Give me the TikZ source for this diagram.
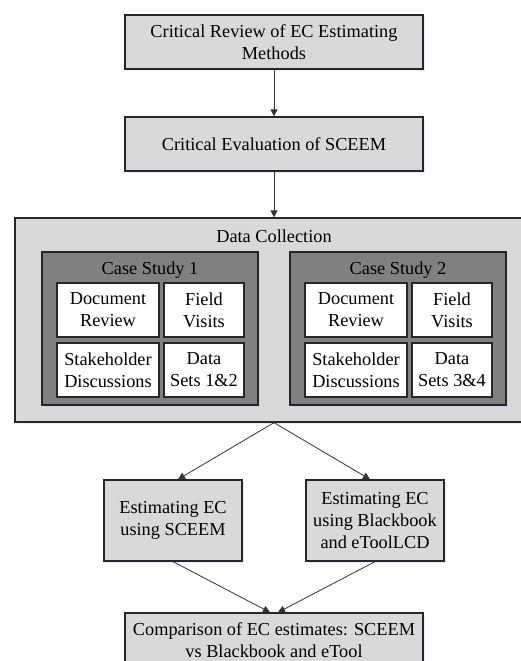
\documentclass[tikz,border=0pt]{standalone}
\usepackage{fontspec}
\setmainfont{Liberation Serif}
\usetikzlibrary{arrows.meta,shadows}

\begin{document}
\begin{tikzpicture}[x=1pt,y=-1pt,
  font=\fontsize{18.3}{22}\selectfont,
  stagebox/.style={draw=black!85,line width=1.3pt,fill=black!15,align=center,inner sep=2pt,
    drop shadow={shadow xshift=1.5pt,shadow yshift=-2pt,fill=blue!25,opacity=0.35}},
  casebox/.style={stagebox,fill=black!50,minimum width=216pt,minimum height=153pt},
  itembox/.style={draw=black!85,line width=1.3pt,fill=white,align=center,minimum height=54pt,inner sep=1pt},
  flow/.style={draw=black!80,line width=0.8pt,-{Triangle[length=7pt,width=7pt]}}]
  % Page
  \useasboundingbox (0,0) rectangle (521,661);
  \clip (0,0) rectangle (521,661);

  % Review stages
  \node[stagebox,minimum width=298pt,minimum height=54pt] (review) at (274,42)
    {Critical Review of EC Estimating\\Methods};
  \node[stagebox,minimum width=298pt,minimum height=54pt] (evaluation) at (274,144)
    {Critical Evaluation of SCEEM};

  % Data collection
  \node[stagebox,minimum width=518pt,minimum height=204pt] (collection) at (274,320) {};
  \node (collectiontitle) at (274,236) {Data Collection};

  \foreach \i/\cx/\sets in {1/150/1\&2, 2/398/3\&4} {
    \node[casebox] (case\i) at (\cx,328.5) {};
    \node (casetitle\i) at (\cx,270) {Case Study \i};
    \node[itembox,minimum width=102pt] (doc\i) at (\cx-42,310) {Document\\Review};
    \node[itembox,minimum width=80pt] (field\i) at (\cx+54,310) {Field\\Visits};
    \node[itembox,minimum width=102pt] (stake\i) at (\cx-42,370) {Stakeholder\\Discussions};
    \node[itembox,minimum width=80pt] (sets\i) at (\cx+54,370) {Data\\Sets \sets};
  }

  % Estimating
  \node[stagebox,minimum width=138pt,minimum height=81pt] (sceem) at (173,520.5)
    {Estimating EC\\using SCEEM};
  \node[stagebox,minimum width=138pt,minimum height=81pt] (tools) at (375,520.5)
    {Estimating EC\\using Blackbook\\and eToolLCD};
  \node[stagebox,minimum width=298pt,minimum height=54pt] (comparison) at (274,640)
    {Comparison of EC estimates: SCEEM\\vs Blackbook and eTool};

  % Arrows
  \draw[flow] (review) -- (evaluation);
  \draw[flow] (evaluation) -- (collection);
  \draw[flow] (collection.south) -- ([xshift=5pt]sceem.north);
  \draw[flow] (collection.south) -- ([xshift=-5pt]tools.north);
  \draw[flow] (sceem.south) -- ([xshift=-4pt]comparison.north);
  \draw[flow] (tools.south) -- ([xshift=4pt]comparison.north);
\end{tikzpicture}
\end{document}
